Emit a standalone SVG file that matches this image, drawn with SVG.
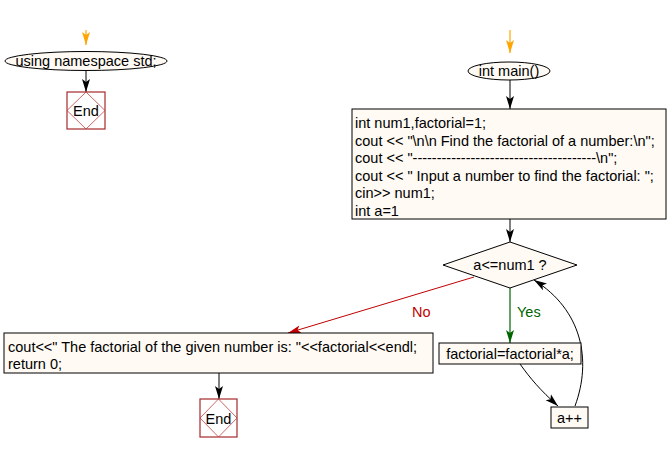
<svg xmlns="http://www.w3.org/2000/svg" width="670" height="452" viewBox="0 0 670 452">
<style>
text{font-family:"Liberation Sans",Arial,sans-serif;font-size:14.5px;fill:#000}
.box{fill:#fffaf4;stroke:#000;stroke-width:1}
.endb{fill:#fff;stroke:#a52a2a;stroke-width:1.2}
.endd{fill:none;stroke:#c04040;stroke-width:0.8}
.c{fill:none;stroke:#000;stroke-width:1}
.o{fill:none;stroke:#ffa500;stroke-width:1.2}
.r{fill:none;stroke:#c00000;stroke-width:1}
.g{fill:none;stroke:#006400;stroke-width:1.2}
</style>
<defs>
<marker id="ab" markerUnits="userSpaceOnUse" markerWidth="14" markerHeight="10" refX="13" refY="5" orient="auto"><path d="M0,1 L13,5 L0,9 L3,5 z" fill="#000"/></marker>
<marker id="ao" markerUnits="userSpaceOnUse" markerWidth="14" markerHeight="10" refX="13" refY="5" orient="auto"><path d="M0,1 L13,5 L0,9 L3,5 z" fill="#ffa500"/></marker>
<marker id="ar" markerUnits="userSpaceOnUse" markerWidth="14" markerHeight="10" refX="13" refY="5" orient="auto"><path d="M0,1 L13,5 L0,9 L3,5 z" fill="#c00000"/></marker>
<marker id="ag" markerUnits="userSpaceOnUse" markerWidth="14" markerHeight="10" refX="13" refY="5" orient="auto"><path d="M0,1 L13,5 L0,9 L3,5 z" fill="#006400"/></marker>
</defs>
<g id="connectors">
<line class="o" x1="86" y1="30" x2="86" y2="45" marker-end="url(#ao)"/>
<line class="c" x1="86" y1="70" x2="86" y2="92" marker-end="url(#ab)"/>
<line class="o" x1="510" y1="30" x2="510" y2="53" marker-end="url(#ao)"/>
<line class="c" x1="510" y1="80" x2="510" y2="109" marker-end="url(#ab)"/>
<line class="c" x1="510" y1="219" x2="510" y2="242" marker-end="url(#ab)"/>
<line class="g" x1="510" y1="288" x2="510" y2="343" marker-end="url(#ag)"/>
<path class="r" d="M474,277 L288,333" marker-end="url(#ar)"/>
<path class="c" d="M520,364 C530,378 540,390 558,406" marker-end="url(#ab)"/>
<path class="c" d="M575,406 C592,360 582,310 534,280" marker-end="url(#ab)"/>
<line class="c" x1="219" y1="373" x2="219" y2="399" marker-end="url(#ab)"/>
<text x="412" y="317" style="fill:#c00000">No</text>
<text x="517" y="317" style="fill:#006400">Yes</text>
</g>
<g id="n1">
<ellipse class="box" cx="86" cy="61" rx="81" ry="9.5"/>
<text x="86" y="66" text-anchor="middle">using namespace std;</text>
</g>
<g id="n2">
<rect class="endb" x="67" y="92" width="38" height="37"/>
<path class="endd" d="M86,92 L105,110.5 L86,129 L67,110.5 z"/>
<text x="86" y="115.5" text-anchor="middle">End</text>
</g>
<g id="n3">
<ellipse class="box" cx="509" cy="71" rx="41" ry="9"/>
<text x="509" y="76" text-anchor="middle">int main()</text>
</g>
<g id="n4">
<rect class="box" x="352" y="109" width="314" height="110"/>
<text x="355" y="128">int num1,factorial=1;</text>
<text x="355" y="145.5">cout &lt;&lt; "\n\n Find the factorial of a number:\n";</text>
<text x="355" y="163">cout &lt;&lt; "--------------------------------------\n";</text>
<text x="355" y="180.5">cout &lt;&lt; " Input a number to find the factorial: ";</text>
<text x="355" y="198">cin&gt;&gt; num1;</text>
<text x="355" y="215.5">int a=1</text>
</g>
<g id="n5">
<path class="box" d="M510,242 L577,265 L510,288 L443,265 z"/>
<text x="510" y="270" text-anchor="middle">a&lt;=num1 ?</text>
</g>
<g id="n6">
<rect class="box" x="439" y="343" width="142" height="21"/>
<text x="510" y="359" text-anchor="middle">factorial=factorial*a;</text>
</g>
<g id="n7">
<rect class="box" x="551" y="407" width="37" height="21"/>
<text x="569.5" y="423" text-anchor="middle">a++</text>
</g>
<g id="n8">
<rect class="box" x="4" y="333" width="429" height="40"/>
<text x="8" y="352">cout&lt;&lt;" The factorial of the given number is: "&lt;&lt;factorial&lt;&lt;endl;</text>
<text x="8" y="369">return 0;</text>
</g>
<g id="n9">
<rect class="endb" x="200" y="399" width="37" height="38"/>
<path class="endd" d="M218.5,399 L237,418 L218.5,437 L200,418 z"/>
<text x="218.5" y="423.5" text-anchor="middle">End</text>
</g>
</svg>
